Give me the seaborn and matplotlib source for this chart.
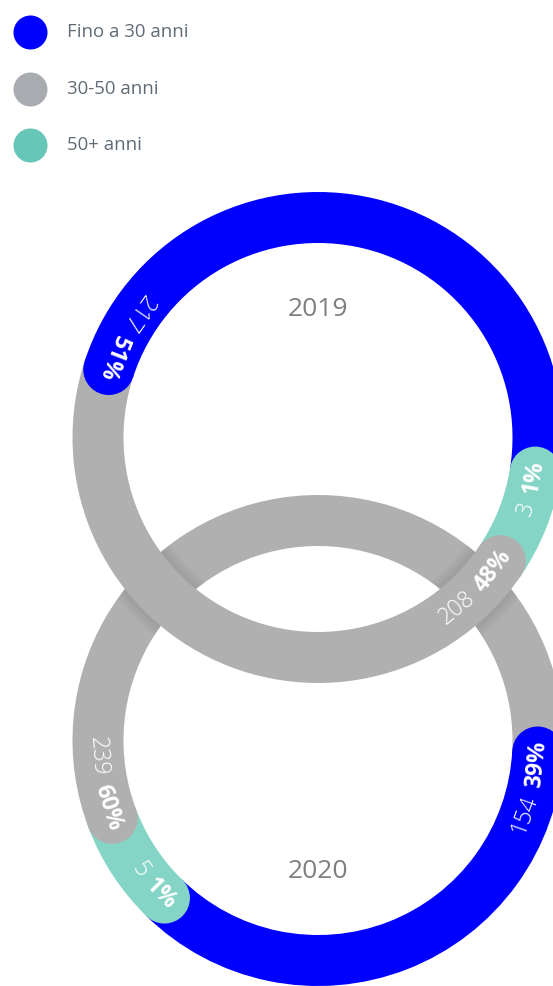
import numpy as np
import pandas as pd
import seaborn as sns
import matplotlib.pyplot as plt
from matplotlib.patches import Wedge, Circle

# Dati
fasce = ['Fino a 30 anni', '30-50 anni', '50+ anni']
anni = ['2019', '2020']
valori_2019 = [217, 208, 3]
valori_2020 = [154, 239, 5]
perc_2019 = [51, 48, 1]
perc_2020 = [39, 60, 1]

colori_anello = sns.color_palette(['#0000ff', '#b0b0b0', '#84d5c5'])
colori_legenda = ['#0000ff', '#a8acb0', '#66c6b8']

sns.set_theme(style='white')
plt.rcParams['font.family'] = ['Open Sans', 'DejaVu Sans']

W, H = 553, 986
R_OUT = 245.5
LARG = 51
R_MED = R_OUT - LARG / 2
MIN_ANG = 25          # angolo minimo per le fette piccole
ORDINE = [0, 2, 1]    # ordine in senso orario

fig = plt.figure(figsize=(W / 100, H / 100), dpi=100)
ax = fig.add_axes([0, 0, 1, 1])
ax.set_xlim(0, W)
ax.set_ylim(0, H)
ax.axis('off')
renderer = fig.canvas.get_renderer()


def punto(centro, ang, r=R_MED):
    a = np.radians(ang)
    return centro[0] + r * np.cos(a), centro[1] + r * np.sin(a)


def anello(centro, valori, inizio, z):
    quote = np.array(valori, dtype=float) / sum(valori) * 360
    piccole = quote < MIN_ANG
    ampiezze = np.where(piccole, MIN_ANG,
                        quote * (360 - MIN_ANG * piccole.sum()) / quote[~piccole].sum())
    a = inizio
    starts = {}
    for i in ORDINE:
        a1 = a - ampiezze[i]
        ax.add_patch(Wedge(centro, R_OUT, a1 - 0.3, a, width=LARG,
                           color=colori_anello[i], lw=0, zorder=z))
        starts[i] = a
        a = a1
    # estremità arrotondate all'inizio di ogni fetta
    for i in ORDINE:
        ax.add_patch(Circle(punto(centro, starts[i]), LARG / 2,
                            color=colori_anello[i], lw=0, zorder=z + 0.1))
    return starts


def etichette(centro, starts, valori, perc):
    for i in ORDINE:
        fine = starts[i] + 3
        tp = ax.text(0, 0, f'{perc[i]}%', fontsize=16.5, fontweight='bold',
                     color='white', ha='center', va='center', zorder=10)
        tn = ax.text(0, 0, f'{valori[i]}', fontsize=16.5, fontweight='light',
                     color='white', ha='center', va='center', zorder=10)
        wp = tp.get_window_extent(renderer).width
        wn = tn.get_window_extent(renderer).width
        ap = fine - np.degrees((wp / 2) / R_MED)
        an = fine - np.degrees((wp + 9 + wn / 2) / R_MED)
        tp.set_position(punto(centro, ap))
        tp.set_rotation(ap + 90)
        tn.set_position(punto(centro, an))
        tn.set_rotation(an + 90)


c_sopra = (318, H - 437.5)
c_sotto = (318, H - 740.5)

# anello 2020 (sotto)
s20 = anello(c_sotto, valori_2020, -3, 1)

# ombra dell'anello 2019 sull'anello 2020
clip = Wedge(c_sotto, R_OUT, 0, 360, width=LARG, transform=ax.transData)
for k in range(1, 9):
    ombra = Wedge(c_sopra, R_OUT + 1.5 * k, 0, 360, width=LARG + 3 * k,
                  color='black', alpha=0.01, lw=0, zorder=3)
    ax.add_patch(ombra)
    ombra.set_clip_path(clip)

# anello 2019 (sopra)
s19 = anello(c_sopra, valori_2019, 162, 4)

etichette(c_sotto, s20, valori_2020, perc_2020)
etichette(c_sopra, s19, valori_2019, perc_2019)

ax.text(318, H - 309, anni[0], ha='center', va='center', fontsize=19, color='#7f7f7f')
ax.text(318, H - 872, anni[1], ha='center', va='center', fontsize=19, color='#7f7f7f')

# legenda
for k, (nome, col) in enumerate(zip(fasce, colori_legenda)):
    y = H - [32, 89, 145][k]
    ax.scatter([30], [y], s=600, color=col, lw=0, zorder=5)
    ax.text(67, y, nome, ha='left', va='center', fontsize=13.4, color='#5f6b77')

fig.savefig('out.png', dpi=100)
